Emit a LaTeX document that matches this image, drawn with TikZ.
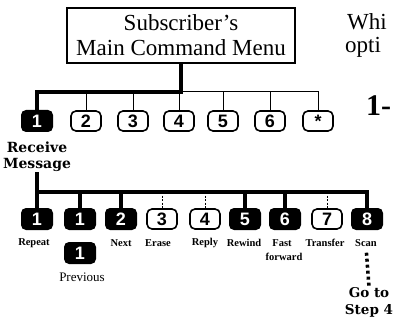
\documentclass[tikz,border=0pt]{standalone}
\usepackage{fontspec}
\setmainfont{Liberation Serif}
\newfontfamily\dvs{DejaVu Serif}
\newfontfamily\keyf{Liberation Sans}
\begin{document}
\begin{tikzpicture}[x=1pt,y=-1pt,
  keyb/.style={rounded corners=5pt, fill=black, minimum width=32pt, minimum height=22pt, inner sep=0pt, text=white, font=\keyf\bfseries\fontsize{18}{18}\selectfont},
  keyw/.style={rounded corners=5pt, draw=black, line width=1.6pt, fill=white, minimum width=30pt, minimum height=20pt, inner sep=0pt, text=black, font=\keyf\bfseries\fontsize{18}{18}\selectfont},
  thickl/.style={line width=4pt, line join=miter},
  thinl/.style={line width=1pt},
  dashl/.style={line width=1pt, dash pattern=on 2pt off 1.5pt},
  lab/.style={inner sep=0pt, font=\bfseries\fontsize{10.5}{11}\selectfont},
  bigl/.style={inner sep=0pt, align=center, font=\dvs\bfseries\fontsize{14}{16}\selectfont},
  side/.style={inner sep=0pt, anchor=west, font=\fontsize{23}{25}\selectfont}
]
\useasboundingbox (0,0) rectangle (393,323);
\clip (0,0) rectangle (393,323);
\fill[white] (0,0) rectangle (393,323);

% main box
\node[draw, line width=1.3pt, minimum width=228pt, minimum height=55pt, inner sep=0pt, align=center,
      font=\fontsize{23}{25}\selectfont] (menu) at (181,35.5) {Subscriber's\\Main Command Menu};

% side text
\node[side] (whi) at (347,22) {Whi};
\node[side] (opti) at (345,47) {opti};
\node[side, font=\bfseries\fontsize{30}{30}\selectfont] (one) at (366,106) {1-};

% top row keys
\node[keyb] (t1) at (37,121) {1};
\node[keyw] (t2) at (86,121) {2};
\node[keyw] (t3) at (133,121) {3};
\node[keyw] (t4) at (179,121) {4};
\node[keyw] (t5) at (223,121) {5};
\node[keyw] (t6) at (270,121) {6};
\node[keyw] (t7) at (318,121) {*};

\coordinate (j1) at (181,92);
\draw[thinl] (j1) -| (t7);
\foreach \k in {t2,t3,t4,t5,t6} \draw[thinl] (\k |- j1) -- (\k);
\draw[thickl] (menu.south) -- (j1) -| (t1);

% receive message
\node[bigl] (recv) at (37,157) {Receive\\Message};

% second row keys
\node[keyb] (r1) at (37,219) {1};
\node[keyb] (r2) at (80,219) {1};
\node[keyb] (r3) at (121,219) {2};
\node[keyw] (r4) at (162,219) {3};
\node[keyw] (r5) at (205,219) {4};
\node[keyb] (r6) at (245,219) {5};
\node[keyb] (r7) at (285,219) {6};
\node[keyw] (r8) at (327,219) {7};
\node[keyb] (r9) at (367,219) {8};

\coordinate (j2) at (37,192);
\foreach \k in {r4,r5,r8} \draw[dashl] (\k |- j2) -- (\k);
\draw[thickl] (recv.south) -- (j2) -| (r9);
\draw[thickl] (j2) -- (r1);
\foreach \k in {r2,r3,r6,r7} \draw[thickl] (\k |- j2) -- (\k);

% labels
\node[lab] (l1) at (34,243) {Repeat};
\node[lab] (l3) at (121,243) {Next};
\node[lab] (l4) at (158,243) {Erase};
\node[lab] (l5) at (205,243) {Reply};
\node[lab] (l6) at (244,243) {Rewind};
\node[lab] (l7) at (282,243) {Fast};
\node[lab] (l7b) at (284,257) {forward};
\node[lab] (l8) at (325,243) {Transfer};
\node[lab] (l9) at (366,243) {Scan};

\node[keyb] (prev) at (80,253) {1};
\node[inner sep=0pt, font=\fontsize{13}{13}\selectfont] (lprev) at (82,277) {Previous};

\node[bigl, font=\dvs\bfseries\fontsize{13.5}{17}\selectfont] (goto) at (369,302) {Go to\\Step 4};
\draw[line width=3.5pt, dash pattern=on 3pt off 3pt, shorten <=6pt] (l9.south) -- (goto.north);
\end{tikzpicture}
\end{document}
